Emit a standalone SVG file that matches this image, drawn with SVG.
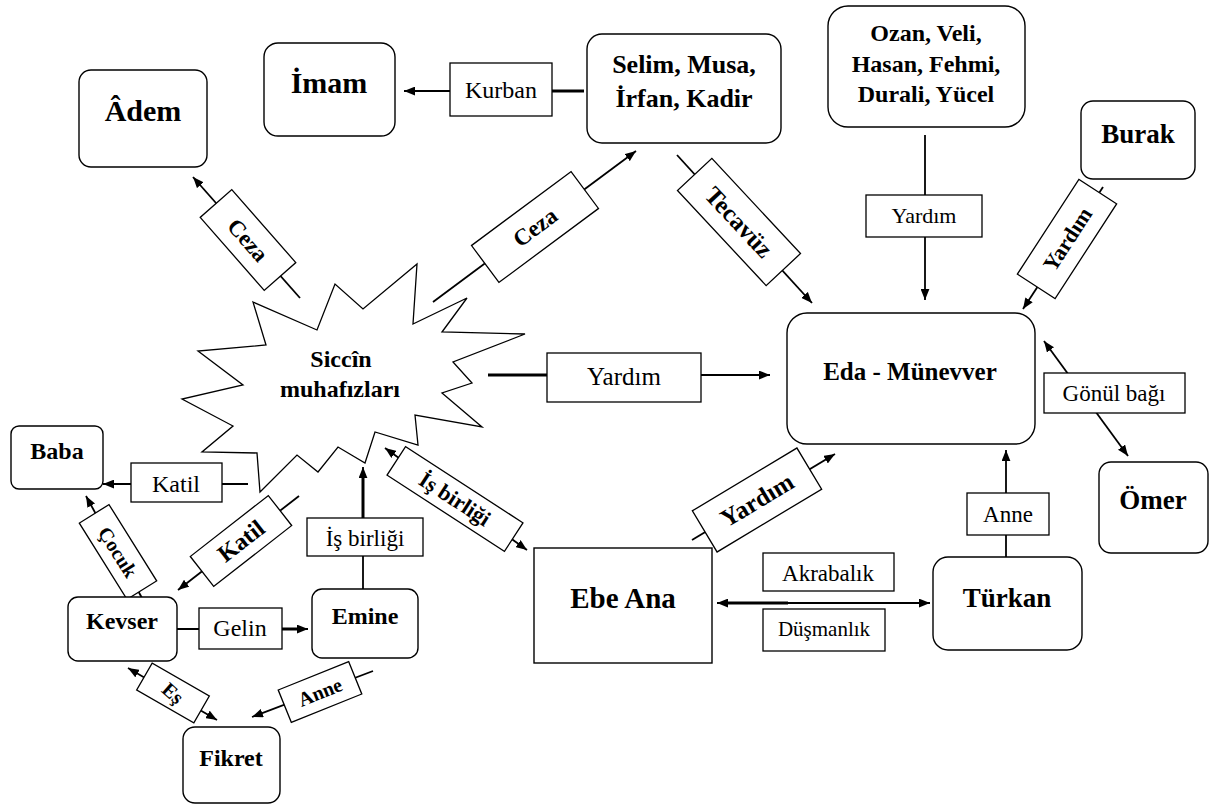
<svg xmlns="http://www.w3.org/2000/svg" width="1221" height="805" viewBox="0 0 1221 805" font-family="'Liberation Serif', 'DejaVu Serif', serif">
  <defs>
    <marker id="arr" viewBox="0 0 10 8" refX="10" refY="4" markerWidth="11" markerHeight="9" markerUnits="userSpaceOnUse" orient="auto-start-reverse">
      <path d="M0,0 L10,4 L0,8 z" fill="#000"/>
    </marker>
    <style>
      text { font-family: 'Liberation Serif', 'DejaVu Serif', serif; fill: #000; text-anchor: middle; }
      .bg { fill: #fff; }
      .node rect { fill: #fff; stroke: #000; stroke-width: 1.4; }
      .node text { font-weight: bold; }
      .star { fill: #fff; stroke: #000; stroke-width: 1.3; stroke-linejoin: miter; }
      .edge { fill: none; stroke: #000; stroke-width: 1.8; }
      .thick { stroke-width: 3; }
      .end { marker-end: url(#arr); }
      .both { marker-start: url(#arr); marker-end: url(#arr); }
      .lbl rect { fill: #fff; stroke: #000; stroke-width: 1.3; }
      .lbl text { font-weight: normal; }
      .rot text { font-weight: bold; }
    </style>
  </defs>

  <rect class="bg" x="0" y="0" width="1221" height="805"/>

  <!-- burst shape for the guardians -->
  <g id="siccin">
    <polygon class="star" points="253,302 317,330 335,284 363,309 417,264 413,324 467,298 442,332 525,334 453,362 472,383 442,393 482,427 415,415 418,445 375,432 365,463 338,447 318,472 297,455 260,492 257,453 202,452 233,426 182,399 243,385 198,351 266,345"/>
    <g class="node">
      <text x="341" y="367" font-size="24">Siccîn</text>
      <text x="340" y="397" font-size="24">muhafızları</text>
    </g>
  </g>

  <!-- connectors -->
  <g id="connectors">
    <path class="edge end" d="M583,91 H404"/>
    <path class="edge thick" d="M552,91 H584"/>
    <path class="edge end" d="M300,298 L193,177"/>
    <path class="edge end" d="M433,302 L636,151"/>
    <path class="edge end" d="M677,155 L812,303"/>
    <path class="edge end" d="M925,135 V300"/>
    <path class="edge end" d="M1103,187 L1023,309"/>
    <path class="edge end" d="M488,375 H770"/>
    <path class="edge thick" d="M488,375 H547"/>
    <path class="edge both" d="M1044,341 L1128,456"/>
    <path class="edge end" d="M1006,557 V450"/>
    <path class="edge both" d="M717,603 H930"/>
    <path class="edge thick" d="M722,603 H788"/>
    <path class="edge end" d="M692,540 L835,454"/>
    <path class="edge both" d="M385,448 L527,550"/>
    <path class="edge end" d="M363,589 V467"/>
    <path class="edge thick" d="M363,520 V475"/>
    <path class="edge end" d="M248,484 H103"/>
    <path class="edge end" d="M299,496 L178,590"/>
    <path class="edge end" d="M142,598 L86,496"/>
    <path class="edge end" d="M177,629 H308"/>
    <path class="edge thick" d="M282,629 H300"/>
    <path class="edge both" d="M128,668 L217,720"/>
    <path class="edge end" d="M373,671 L252,717"/>
  </g>

  <!-- relation labels -->
  <g id="labels">
    <g class="lbl"><rect x="450" y="63" width="102" height="53"/><text x="501" y="98" font-size="24">Kurban</text></g>
    <g class="lbl"><rect x="547" y="353" width="154" height="49"/><text x="624" y="385" font-size="25">Yardım</text></g>
    <g class="lbl"><rect x="866" y="195" width="116" height="42"/><text x="924" y="223" font-size="22">Yardım</text></g>
    <g class="lbl"><rect x="131" y="463" width="91" height="39"/><text x="176" y="492" font-size="24">Katil</text></g>
    <g class="lbl"><rect x="199" y="608" width="83" height="41"/><text x="240" y="636" font-size="24">Gelin</text></g>
    <g class="lbl"><rect x="307" y="518" width="116" height="38"/><text x="365" y="546" font-size="23">İş birliği</text></g>
    <g class="lbl"><rect x="763" y="553" width="131" height="38"/><text x="828" y="581" font-size="23">Akrabalık</text></g>
    <g class="lbl"><rect x="763" y="609" width="122" height="42"/><text x="824" y="636" font-size="21">Düşmanlık</text></g>
    <g class="lbl"><rect x="967" y="493" width="82" height="42"/><text x="1008" y="522" font-size="23">Anne</text></g>
    <g class="lbl"><rect x="1044" y="373" width="141" height="40"/><text x="1114" y="401" font-size="23">Gönül bağı</text></g>

    <g class="lbl rot" transform="translate(248,240) rotate(48.7)"><rect x="-48.5" y="-21" width="97" height="42"/><text y="8" font-size="23">Ceza</text></g>
    <g class="lbl rot" transform="translate(535,227) rotate(-36.6)"><rect x="-62" y="-23" width="124" height="46"/><text y="8" font-size="23">Ceza</text></g>
    <g class="lbl rot" transform="translate(739,222) rotate(47)"><rect x="-65" y="-23.5" width="130" height="47"/><text y="8.5" font-size="25">Tecavüz</text></g>
    <g class="lbl rot" transform="translate(1067,239) rotate(-57)"><rect x="-56.5" y="-22.5" width="113" height="45"/><text y="8" font-size="22">Yardım</text></g>
    <g class="lbl rot" transform="translate(757,500) rotate(-31)"><rect x="-61" y="-24" width="122" height="48"/><text y="8.5" font-size="25">Yardım</text></g>
    <g class="lbl rot" transform="translate(455,499) rotate(33)"><rect x="-70" y="-17" width="140" height="34"/><text y="7.5" font-size="22">İş birliği</text></g>
    <g class="lbl rot" transform="translate(241,541) rotate(-38)"><rect x="-49.5" y="-19" width="99" height="38"/><text y="8" font-size="24">Katil</text></g>
    <g class="lbl rot" transform="translate(118,552) rotate(58)"><rect x="-45" y="-17.5" width="90" height="35"/><text y="7" font-size="20">Çocuk</text></g>
    <g class="lbl rot" transform="translate(173,693) rotate(30)"><rect x="-33" y="-15.5" width="66" height="31"/><text y="7" font-size="20" transform="rotate(12)">Eş</text></g>
    <g class="lbl rot" transform="translate(320,692) rotate(-22)"><rect x="-38" y="-17.5" width="76" height="35"/><text y="7" font-size="20">Anne</text></g>
  </g>

  <!-- character nodes -->
  <g id="adem" class="node"><rect x="79" y="70" width="128" height="97" rx="12"/><text x="143" y="121" font-size="30">Âdem</text></g>
  <g id="imam" class="node"><rect x="264" y="43" width="131" height="93" rx="14"/><text x="329" y="93" font-size="30">İmam</text></g>
  <g id="selim" class="node"><rect x="587" y="34" width="194" height="109" rx="15"/><text x="684" y="73" font-size="26">Selim, Musa,</text><text x="684" y="107" font-size="26">İrfan, Kadir</text></g>
  <g id="ozan" class="node"><rect x="828" y="6" width="197" height="121" rx="20"/><text x="926" y="41" font-size="24">Ozan, Veli,</text><text x="926" y="72" font-size="24">Hasan, Fehmi,</text><text x="926" y="102" font-size="24">Durali, Yücel</text></g>
  <g id="burak" class="node"><rect x="1081" y="101" width="114" height="78" rx="12"/><text x="1138" y="143" font-size="27">Burak</text></g>
  <g id="eda" class="node"><rect x="787" y="313" width="248" height="131" rx="20"/><text x="910" y="380" font-size="25">Eda - Münevver</text></g>
  <g id="omer" class="node"><rect x="1099" y="462" width="109" height="91" rx="12"/><text x="1153" y="509" font-size="27">Ömer</text></g>
  <g id="turkan" class="node"><rect x="933" y="557" width="149" height="93" rx="15"/><text x="1007" y="607" font-size="27">Türkan</text></g>
  <g id="ebe-ana" class="node"><rect x="534" y="548" width="178" height="115"/><text x="623" y="608" font-size="29">Ebe Ana</text></g>
  <g id="baba" class="node"><rect x="11" y="426" width="92" height="63" rx="8"/><text x="57" y="459" font-size="24">Baba</text></g>
  <g id="kevser" class="node"><rect x="68" y="597" width="109" height="64" rx="10"/><text x="122" y="629" font-size="24">Kevser</text></g>
  <g id="emine" class="node"><rect x="312" y="589" width="106" height="69" rx="10"/><text x="365" y="624" font-size="24">Emine</text></g>
  <g id="fikret" class="node"><rect x="183" y="727" width="97" height="76" rx="12"/><text x="231" y="766" font-size="24">Fikret</text></g>
</svg>
